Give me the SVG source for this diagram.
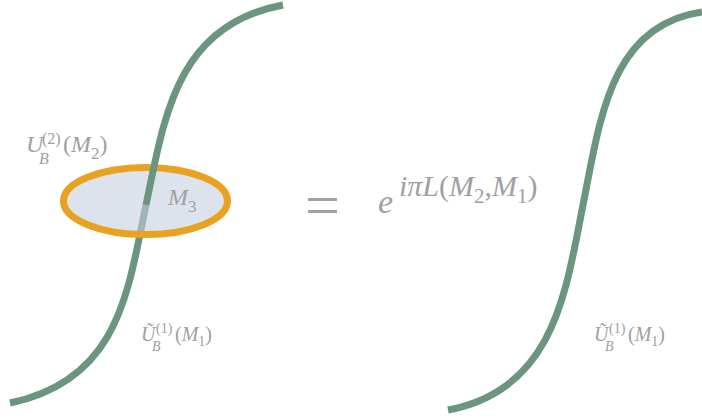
<svg xmlns="http://www.w3.org/2000/svg" width="702" height="418" viewBox="0 0 702 418">
<style>
.wire{fill:none;stroke:#6b957e;stroke-width:7}
.lbl{font-family:"Liberation Serif","Times New Roman",serif;fill:#a0a0a0;font-style:italic}
.up{font-style:normal}
</style>
<rect width="702" height="418" fill="#ffffff"/>
<g id="left-wire-lower">
<path class="wire" d="M10,403 C120,380 128,290 146,205"/>
</g>
<g id="disk-M3">
<ellipse cx="145.5" cy="201" rx="82" ry="33.5" fill="#c4cede" fill-opacity="0.57"/>
<ellipse cx="145.5" cy="201" rx="82" ry="33.5" fill="none" stroke="#e8a21f" stroke-width="7"/>
<text class="lbl" x="168" y="205" font-size="24">M<tspan class="up" font-size="17" dy="7">3</tspan></text>
</g>
<g id="left-wire-upper">
<path class="wire" d="M146,205 C164,120 175,25 283,5"/>
</g>
<g id="right-wire">
<path class="wire" d="M448,410 C555,390 566,290 583,205 C600,120 610,25 702,12"/>
</g>
<g id="label-U2">
<text class="lbl" font-size="24"><tspan x="26" y="152">U</tspan><tspan class="up" x="42" y="144" font-size="16">(2)</tspan><tspan x="39" y="164" font-size="16">B</tspan><tspan class="up" x="63" y="152">(</tspan><tspan>M</tspan><tspan class="up" font-size="17" dy="7">2</tspan><tspan class="up" dy="-7">)</tspan></text>
</g>
<g id="label-U1-left">
<text class="lbl" font-size="20"><tspan x="141" y="341">Ũ</tspan><tspan class="up" x="156" y="333" font-size="14">(1)</tspan><tspan x="152" y="351" font-size="14">B</tspan><tspan class="up" x="175" y="341">(</tspan><tspan>M</tspan><tspan class="up" font-size="14" dy="5">1</tspan><tspan class="up" dy="-5">)</tspan></text>
</g>
<g id="label-U1-right">
<text class="lbl" font-size="20"><tspan x="594" y="341">Ũ</tspan><tspan class="up" x="609" y="333" font-size="14">(1)</tspan><tspan x="605" y="351" font-size="14">B</tspan><tspan class="up" x="628" y="341">(</tspan><tspan>M</tspan><tspan class="up" font-size="14" dy="5">1</tspan><tspan class="up" dy="-5">)</tspan></text>
</g>
<g id="equation">
<text class="lbl up" x="322.5" y="226" font-size="62" text-anchor="middle">=</text>
<text class="lbl" x="378" y="213" font-size="34">e</text>
<text class="lbl" x="399" y="196" font-size="30">iπL<tspan class="up">(</tspan>M<tspan class="up" font-size="21" dy="7">2</tspan><tspan class="up" dy="-7">,</tspan>M<tspan class="up" font-size="21" dy="7">1</tspan><tspan class="up" dy="-7">)</tspan></text>
</g>
</svg>
